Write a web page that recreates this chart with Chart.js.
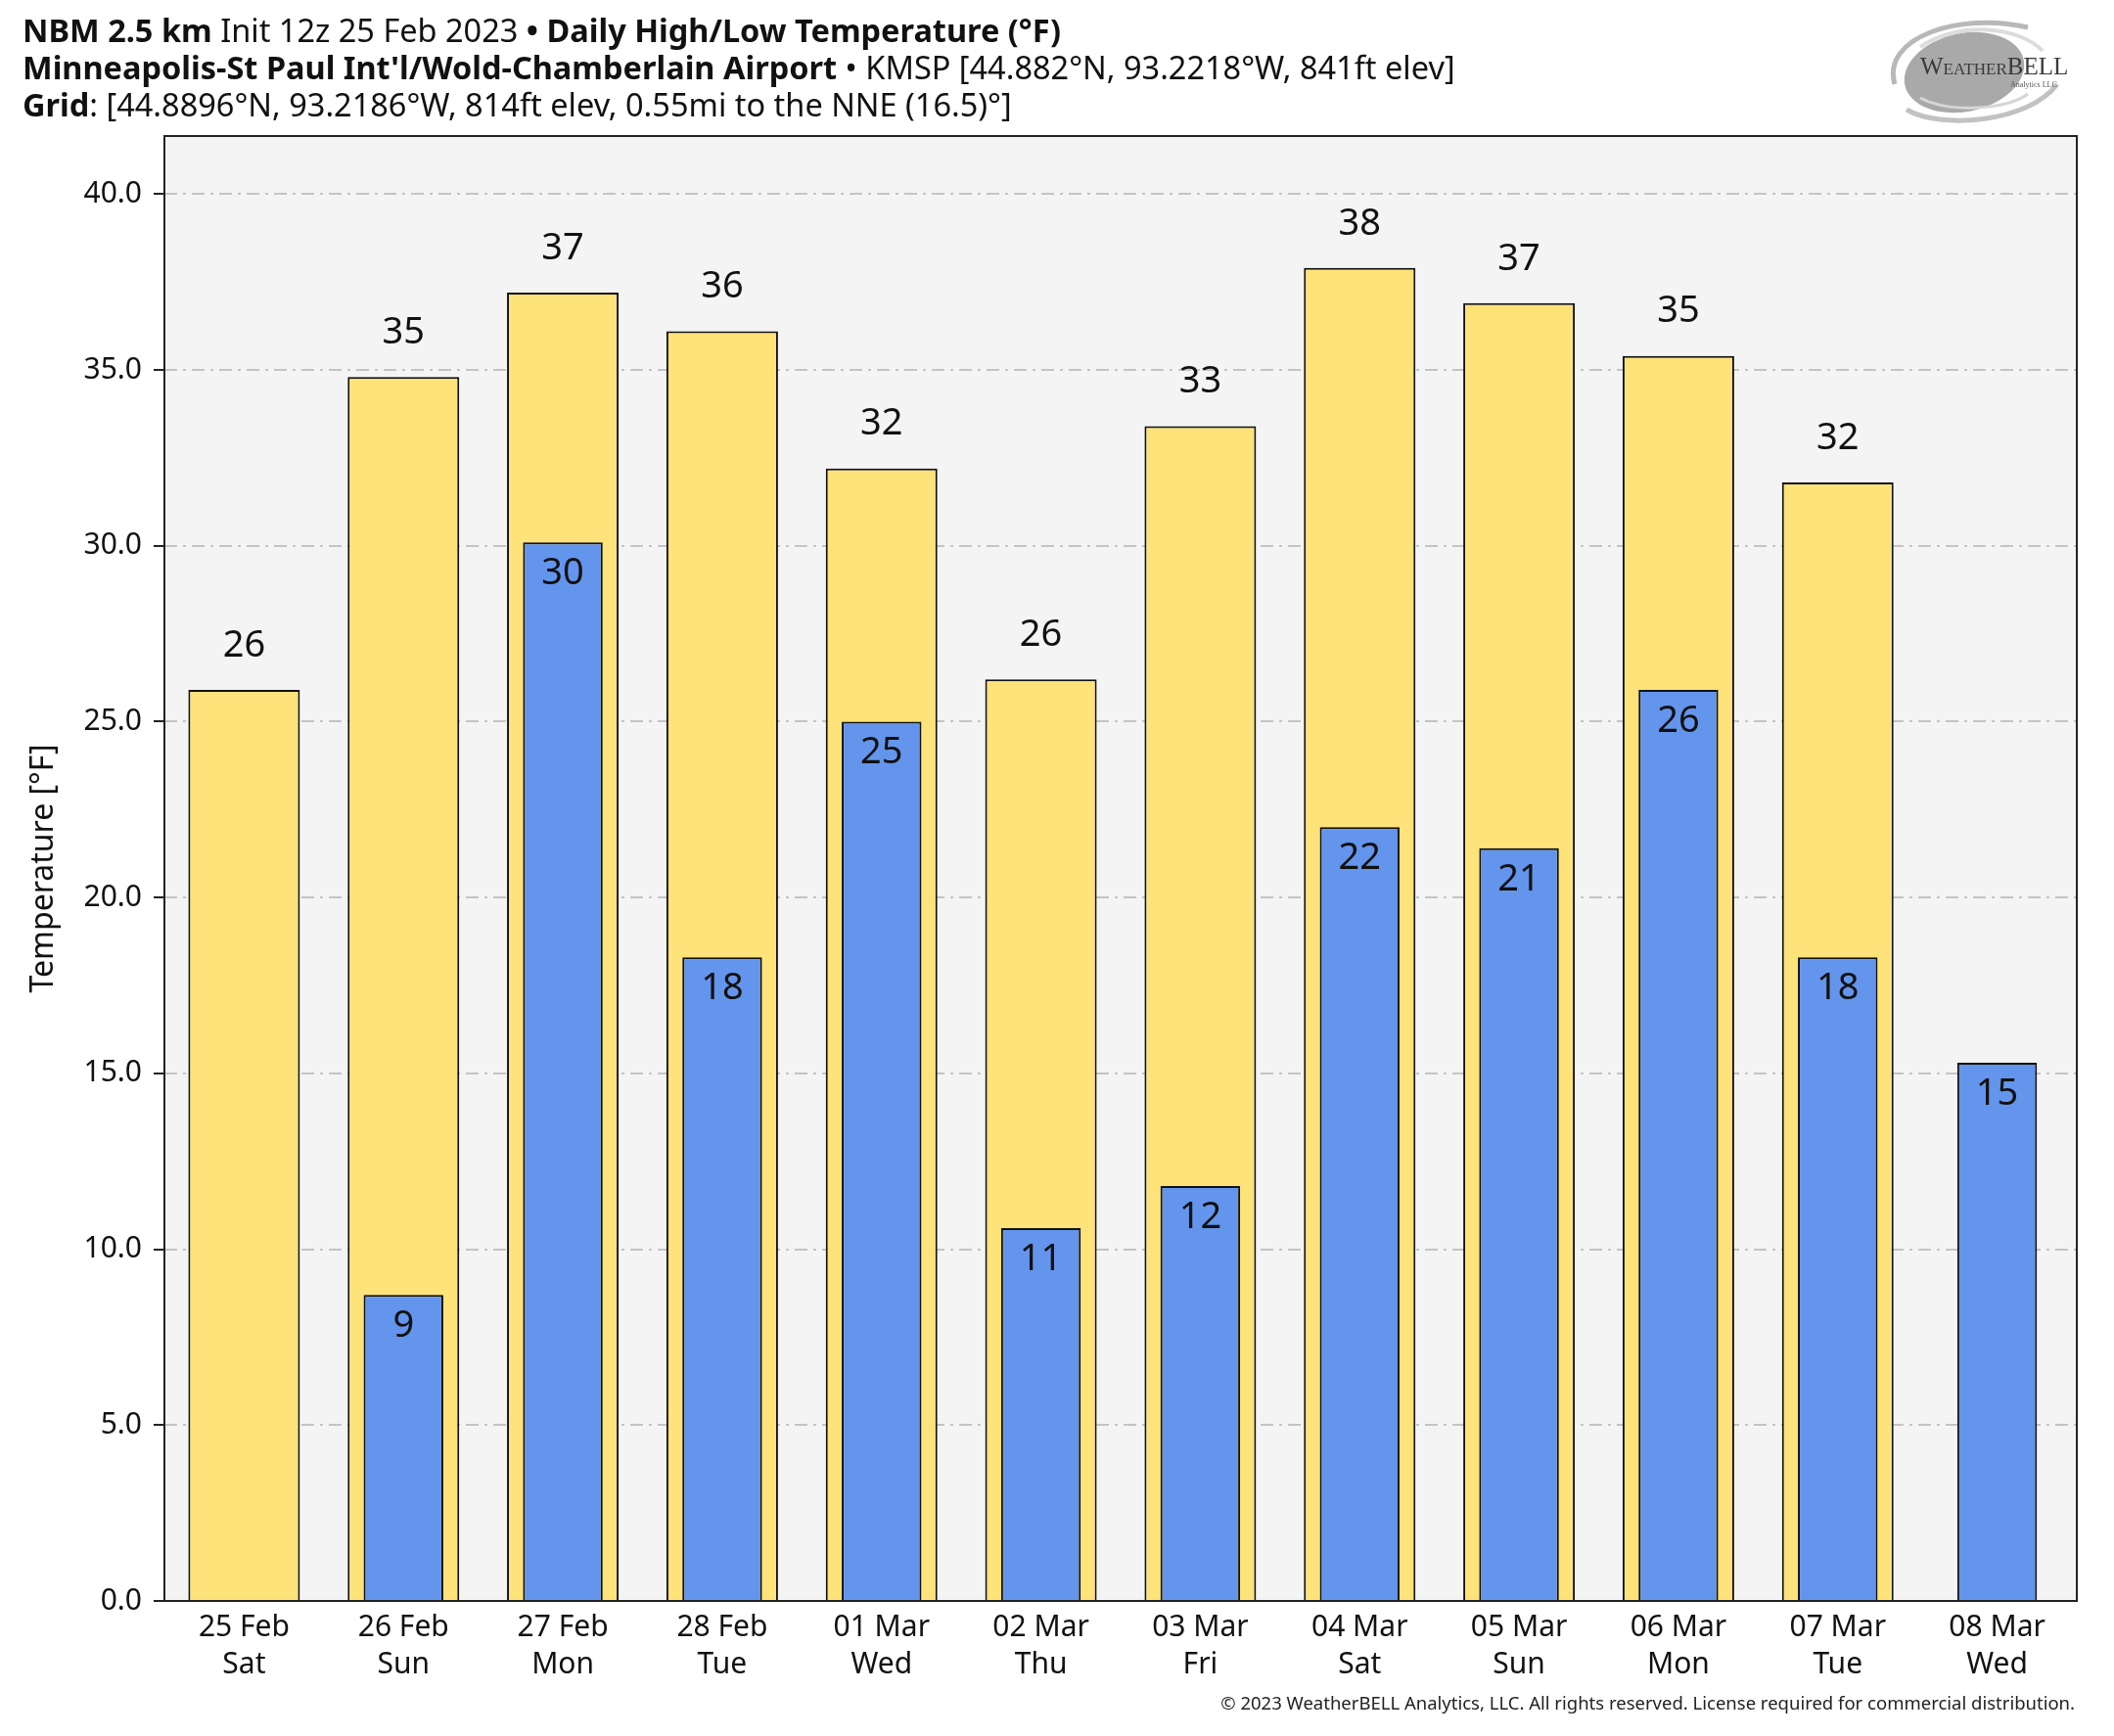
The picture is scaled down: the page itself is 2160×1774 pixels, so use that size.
<!DOCTYPE html>
<html>
<head>
<meta charset="utf-8">
<script src="https://cdn.jsdelivr.net/npm/chart.js@4/dist/chart.umd.min.js"></script>
<style>
 body{margin:0;background:#fff;font-family:"Noto Sans",sans-serif}
 #wrap{position:relative;width:2160px;height:1774px;overflow:hidden}
 canvas{position:absolute;left:0;top:0}
 .t{position:absolute;left:23px;font-size:32.5px;color:#111;white-space:nowrap;line-height:1}
 .t b{font-weight:700}
 #copy{position:absolute;right:40px;top:1731px;font-size:18.5px;color:#222;white-space:nowrap;line-height:1}
 #logo{position:absolute;left:1922px;top:8px}
</style>
</head>
<body>
<div id="wrap">
 <canvas id="c" width="2160" height="1774"></canvas>
 <div class="t" style="top:15px"><b>NBM 2.5 km</b> Init 12z 25 Feb 2023 <b>• Daily High/Low Temperature (°F)</b></div>
 <div class="t" style="top:53px"><b>Minneapolis-St Paul Int'l/Wold-Chamberlain Airport</b> • KMSP [44.882°N, 93.2218°W, 841ft elev]</div>
 <div class="t" style="top:91px"><b>Grid</b>: [44.8896°N, 93.2186°W, 814ft elev, 0.55mi to the NNE (16.5)°]</div>
 <svg id="logo" width="235" height="125" viewBox="0 0 235 125">
  <ellipse cx="85" cy="66" rx="62" ry="40" transform="rotate(-12 85 66)" fill="#a9a9a9"/>
  <path d="M14 78 C 0 30, 80 4, 150 20" fill="none" stroke="#b8b8b8" stroke-width="5"/>
  <path d="M26 104 C 60 124, 150 118, 180 78" fill="none" stroke="#c2c2c2" stroke-width="5"/>
  <path d="M40 40 C 80 14, 140 18, 165 44" fill="none" stroke="#dcdcdc" stroke-width="4"/>
  <path d="M40 92 C 70 108, 130 104, 150 88" fill="none" stroke="#d6d6d6" stroke-width="3"/>
  <text x="40" y="68" font-family="Liberation Serif, DejaVu Serif, serif" fill="#3a3a3a" font-size="25">W<tspan font-size="17">EATHER</tspan>BELL</text>
  <text x="132" y="81" font-family="Liberation Serif, serif" fill="#555" font-size="8">Analytics LLC</text>
 </svg>
 <div id="copy">© 2023 WeatherBELL Analytics, LLC. All rights reserved. License required for commercial distribution.</div>
</div>
<script>
const dates = ['25 Feb','26 Feb','27 Feb','28 Feb','01 Mar','02 Mar','03 Mar','04 Mar','05 Mar','06 Mar','07 Mar','08 Mar']
const weekdays = ['Sat','Sun','Mon','Tue','Wed','Thu','Fri','Sat','Sun','Mon','Tue','Wed']
const highs = [25.9, 34.8, 37.2, 36.1, 32.2, 26.2, 33.4, 37.9, 36.9, 35.4, 31.8, null]
const lows = [null, 8.7, 30.1, 18.3, 25.0, 10.6, 11.8, 22.0, 21.4, 25.9, 18.3, 15.3]
const yTicks = [0, 5, 10, 15, 20, 25, 30, 35, 40]

const labels = dates.map((d, i) => [d, weekdays[i]])

const frame = {
 id: 'frame',
 beforeDraw(chart){
  const a = chart.chartArea, ctx = chart.ctx
  ctx.save()
  ctx.fillStyle = '#f4f4f4'
  ctx.fillRect(a.left, a.top, a.right - a.left, a.bottom - a.top)
  ctx.restore()
 },
 afterDatasetsDraw(chart){
  const a = chart.chartArea, ctx = chart.ctx
  ctx.save()
  ctx.font = '38px "Noto Sans"'
  ctx.fillStyle = '#111'
  ctx.textAlign = 'center'
  ctx.textBaseline = 'middle'
  chart.getDatasetMeta(1).data.forEach((el, i) => {
   if(highs[i] == null) return
   ctx.fillText(Math.round(highs[i]), el.x, el.y - 45)
  })
  chart.getDatasetMeta(0).data.forEach((el, i) => {
   if(lows[i] == null) return
   ctx.fillText(Math.round(lows[i]), el.x, el.y + 32)
  })
  ctx.strokeStyle = '#222'
  ctx.lineWidth = 2
  ctx.strokeRect(a.left, a.top, a.right - a.left, a.bottom - a.top)
  ctx.restore()
 }
}

new Chart(document.getElementById('c'), {
 type: 'bar',
 data: {
  labels: labels,
  datasets: [{
   label: 'Low',
   data: lows,
   backgroundColor: '#6495ed',
   borderColor: '#111',
   borderWidth: 2,
   grouped: false,
   barPercentage: 0.5,
   categoryPercentage: 1,
   order: 1
  },{
   label: 'High',
   data: highs,
   backgroundColor: '#fee27a',
   borderColor: '#111',
   borderWidth: 2,
   grouped: false,
   barPercentage: 0.7,
   categoryPercentage: 1,
   order: 2
  }]
 },
 options: {
  responsive: false,
  animation: false,
  devicePixelRatio: 1,
  layout: { padding: { top: 139, right: 38, bottom: 0, left: 0 } },
  plugins: { legend: { display: false }, tooltip: { enabled: false } },
  scales: {
   x: {
    grid: { display: false },
    border: { display: false },
    ticks: { font: { family: 'Noto Sans', size: 30, lineHeight: 1.27 }, color: '#111', padding: 0, maxRotation: 0 },
    afterFit: s => { s.height = 138 }
   },
   y: {
    min: 0,
    max: 41.65,
    afterBuildTicks: s => { s.ticks = yTicks.map(v => ({ value: v })) },
    ticks: { font: { family: 'Noto Sans', size: 30 }, color: '#111', padding: 12, callback: v => v.toFixed(1) },
    grid: { color: '#c4c4c4', lineWidth: 2, tickLength: 11, tickColor: '#222', tickWidth: 2, tickBorderDash: [] },
    border: { display: false, dash: [13, 6, 3, 6] },
    title: { display: true, text: 'Temperature [°F]', font: { family: 'Noto Sans', size: 32 }, color: '#111', padding: { top: 26, bottom: 0 } },
    afterFit: s => { s.width = 168 }
   }
  }
 },
 plugins: [frame]
})
</script>
</body>
</html>
